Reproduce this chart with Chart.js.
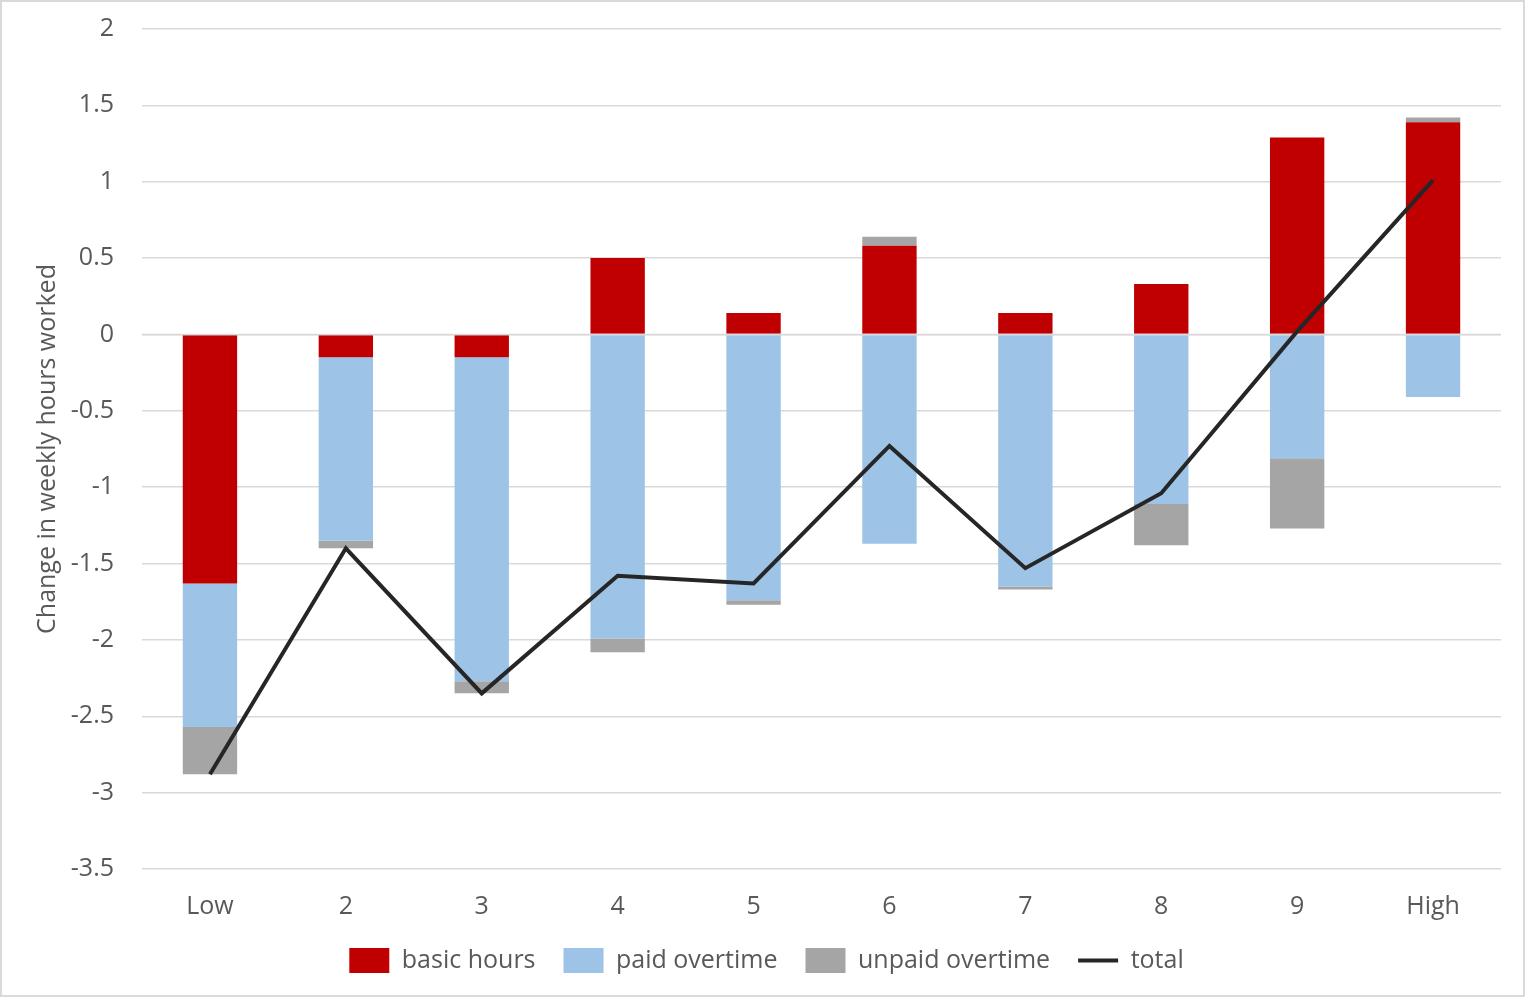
<!DOCTYPE html>
<html>
<head>
<meta charset="utf-8">
<script src="https://cdn.jsdelivr.net/npm/chart.js@4"></script>
<style>
    body { margin: 0; background: #fff; }
    #wrap { width: 1525px; height: 997px; box-sizing: border-box; border: 2px solid #d9d9d9; }
    canvas { display: block; }
</style>
</head>
<body>
<div id="wrap"><canvas id="hoursChart" width="1521" height="993"></canvas></div>
<script>
const categorias = ['Low', '2', '3', '4', '5', '6', '7', '8', '9', 'High'];
const basicHours = [-1.63, -0.15, -0.15, 0.50, 0.14, 0.58, 0.14, 0.33, 1.29, 1.39];
const paidOvertime = [-0.94, -1.20, -2.12, -1.99, -1.74, -1.37, -1.65, -1.11, -0.81, -0.41];
const unpaidOvertime = [-0.31, -0.05, -0.08, -0.09, -0.03, 0.06, -0.02, -0.27, -0.46, 0.03];
const total = [-2.88, -1.40, -2.35, -1.58, -1.63, -0.73, -1.53, -1.04, 0.02, 1.01];

const FONTE = '"Open Sans", sans-serif';
const CINZA_TEXTO = '#595959';

// linha do zero por cima das barras, como no Excel
const linhaZero = {
    id: 'linhaZero',
    beforeDatasetDraw(chart, args) {
        if (args.index !== 3) return;
        const y = chart.scales.y.getPixelForValue(0);
        const ctx = chart.ctx;
        ctx.save();
        ctx.strokeStyle = '#d9d9d9';
        ctx.lineWidth = 1.5;
        ctx.beginPath();
        ctx.moveTo(chart.chartArea.left, y);
        ctx.lineTo(chart.chartArea.right, y);
        ctx.stroke();
        ctx.restore();
    }
};

const ctx = document.getElementById('hoursChart').getContext('2d');
new Chart(ctx, {
    type: 'bar',
    data: {
        labels: categorias,
        datasets: [
            { label: 'basic hours', data: basicHours, backgroundColor: '#c00000', stack: 's', order: 1 },
            { label: 'paid overtime', data: paidOvertime, backgroundColor: '#9dc3e6', stack: 's', order: 1 },
            { label: 'unpaid overtime', data: unpaidOvertime, backgroundColor: '#a5a5a5', stack: 's', order: 1 },
            {
                type: 'line', label: 'total', data: total, borderColor: '#262626', backgroundColor: '#262626',
                borderWidth: 4, pointRadius: 0, tension: 0, order: 0
            }
        ]
    },
    options: {
        responsive: false,
        animation: false,
        barPercentage: 0.4,
        categoryPercentage: 1,
        layout: { padding: { top: 27, right: 22, left: 30, bottom: 12 } },
        scales: {
            x: {
                stacked: true,
                grid: { display: false },
                border: { display: false },
                ticks: { color: CINZA_TEXTO, font: { family: FONTE, size: 25 }, padding: 15 },
                afterFit: function (scale) { scale.height = 51; }
            },
            y: {
                stacked: true,
                min: -3.5,
                max: 2,
                ticks: {
                    stepSize: 0.5,
                    color: CINZA_TEXTO,
                    font: { family: FONTE, size: 25 },
                    padding: 28,
                    callback: v => String(v)
                },
                grid: { color: '#d9d9d9', lineWidth: 1.5, drawTicks: false },
                border: { display: false },
                title: {
                    display: true,
                    text: 'Change in weekly hours worked',
                    color: CINZA_TEXTO,
                    font: { family: FONTE, size: 25, weight: 'normal' },
                    padding: { top: 1, bottom: 0 }
                },
                afterFit: function (scale) {
                    scale.width = 110;
                    scale.paddingTop = 0;
                    scale.paddingBottom = 0;
                }
            }
        },
        plugins: {
            tooltip: { enabled: false },
            legend: {
                position: 'bottom',
                labels: {
                    color: CINZA_TEXTO,
                    font: { family: FONTE, size: 25, lineHeight: 1 },
                    usePointStyle: true,
                    pointStyleWidth: 40,
                    boxHeight: 25,
                    padding: 28,
                    generateLabels: function (chart) {
                        return chart.data.datasets.map((ds, i) => ({
                            text: ds.label,
                            fillStyle: ds.backgroundColor,
                            strokeStyle: ds.type === 'line' ? ds.borderColor : ds.backgroundColor,
                            lineWidth: ds.type === 'line' ? 4 : 0,
                            pointStyle: ds.type === 'line' ? 'line' : 'rect',
                            fontColor: CINZA_TEXTO,
                            datasetIndex: i
                        }));
                    }
                }
            }
        }
    },
    plugins: [linhaZero]
});
</script>
</body>
</html>
